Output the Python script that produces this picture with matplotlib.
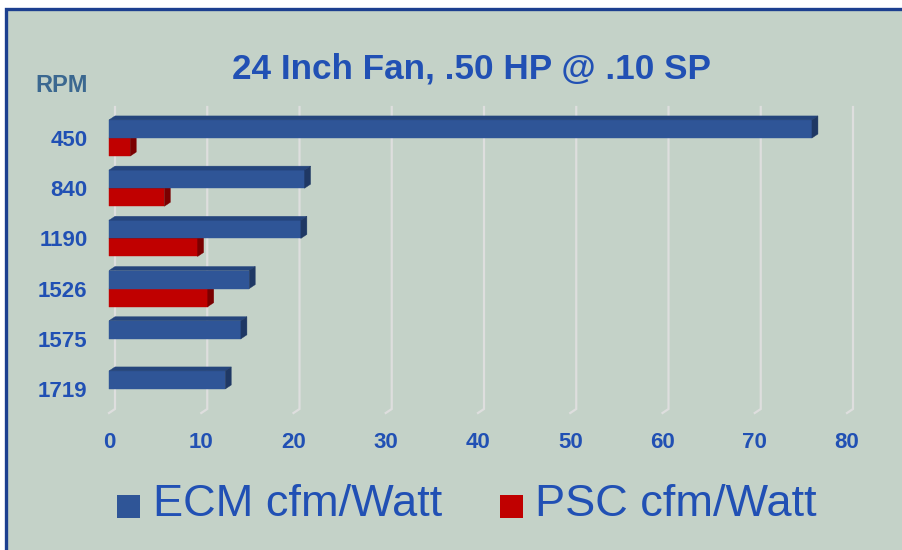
import numpy as np
import matplotlib
matplotlib.use("Agg")
import matplotlib.pyplot as plt
from matplotlib.patches import Polygon, Rectangle

plt.rcParams['font.family'] = ['Liberation Sans', 'DejaVu Sans']

# data
rpm = ['450', '840', '1190', '1526', '1575', '1719']
ecm = [76.2, 21.2, 20.8, 15.2, 14.3, 12.6]
psc = [2.3, 6.0, 9.6, 10.7, np.nan, np.nan]
xticks = [0, 10, 20, 30, 40, 50, 60, 70, 80]

title = '24 Inch Fan, .50 HP @ .10 SP'
series_names = ['ECM cfm/Watt', 'PSC cfm/Watt']

bg = '#C4D2C8'
txt_blue = '#2150B4'
ecm_cols = ('#2F5597', '#25457C', '#1F3864')   # front, top, side
psc_cols = ('#C00000', '#900000', '#7A0000')

W, H = 903, 550
fig = plt.figure(figsize=(W / 100, H / 100), dpi=100)
fig.patch.set_facecolor('white')

# panel with blue frame (only left/top edges visible)
fig.add_artist(Rectangle((5.5 / W, -0.05), 1.2, 1 - 8.5 / H + 0.05,
                         transform=fig.transFigure, facecolor=bg,
                         edgecolor='#1C3F8F', linewidth=2.4, zorder=0))

ax = fig.add_axes([100 / W, 1 - 420 / H, 770 / W, 320 / H])
ax.set_facecolor('none')
for s in ax.spines.values():
    s.set_visible(False)

px_x = 9.225    # pixels per x unit
px_y = 50.2     # pixels per category
ax.set_xlim(-15 / px_x, 755 / px_x)
ax.set_ylim((420 - 138) / px_y, (100 - 138) / px_y)

dx = 6 / px_x   # 3D depth
dy = 4 / px_y
h = 0.36

# gridlines on back wall with floor kink
g_top, g_bot, g_floor = (107 - 138) / px_y, (409 - 138) / px_y, (413 - 138) / px_y
for t in xticks:
    ax.plot([t, t, t - dx], [g_top, g_bot, g_floor], color='#DEDEDE', lw=1.6,
            solid_joinstyle='miter', zorder=1)


def bars3d(vals, offs, cols):
    y = np.arange(len(vals)) + offs
    ax.barh(y, vals, height=h, left=-dx, align='edge', color=cols[0],
            edgecolor=cols[0], linewidth=0.3, zorder=3)
    for yi, v in zip(y, vals):
        if np.isnan(v):
            continue
        top = [(-dx, yi), (v - dx, yi), (v, yi - dy), (0, yi - dy)]
        side = [(v - dx, yi), (v, yi - dy), (v, yi + h - dy), (v - dx, yi + h)]
        ax.add_patch(Polygon(top, closed=True, facecolor=cols[1], edgecolor=cols[1], lw=0.3, zorder=3))
        ax.add_patch(Polygon(side, closed=True, facecolor=cols[2], edgecolor=cols[2], lw=0.3, zorder=3))


bars3d(psc, 0, psc_cols)
bars3d(ecm, -h, ecm_cols)

ax.set_xticks(np.array(xticks) - dx, [str(t) for t in xticks])
ax.set_yticks(np.arange(len(rpm)), rpm)
ax.tick_params(length=0, labelsize=16, labelcolor=txt_blue)
ax.tick_params(axis='x', pad=9)
ax.tick_params(axis='y', pad=9)
for lab in ax.get_xticklabels() + ax.get_yticklabels():
    lab.set_fontweight('bold')

fig.text(472 / W, 1 - 69 / H, title, ha='center', va='center',
         fontsize=25.3, fontweight='bold', color=txt_blue)
fig.text(35 / W, 1 - 86 / H, 'RPM', ha='left', va='center',
         fontsize=17, fontweight='bold', color='#3B6890')

# legend
for mx, tx, name, col in [(117, 153, series_names[0], ecm_cols[0]),
                          (500, 535, series_names[1], psc_cols[0])]:
    fig.add_artist(Rectangle((mx / W, 1 - 518 / H), 23 / W, 23 / H,
                             transform=fig.transFigure, facecolor=col,
                             edgecolor='none'))
    fig.text(tx / W, 1 - 505 / H, name, ha='left', va='center',
             fontsize=32.5, color=txt_blue)

fig.savefig('out.png', dpi=100, facecolor=fig.get_facecolor())
